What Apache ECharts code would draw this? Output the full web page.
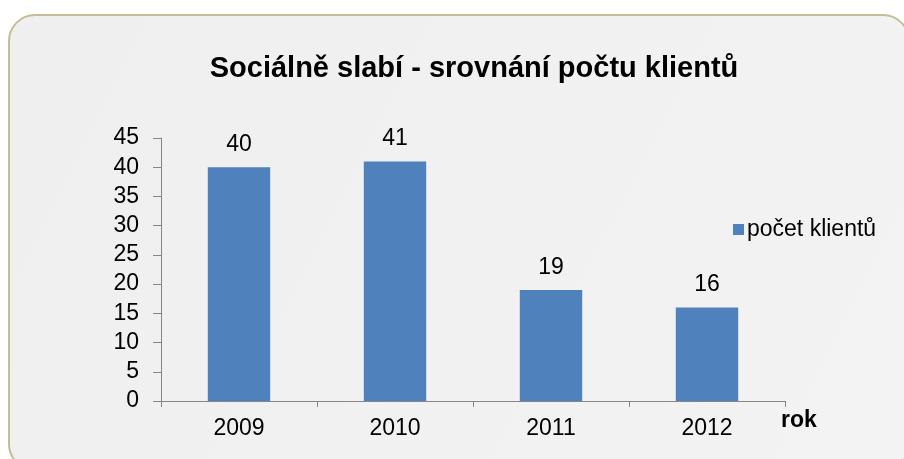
<!DOCTYPE html>
<html>
<head>
<meta charset="utf-8">
<script src="https://cdn.jsdelivr.net/npm/echarts@6/dist/echarts.min.js"></script>
<style>
  html, body { margin: 0; padding: 0; background: #fff; }
  #chart { width: 904px; height: 459px; }
</style>
</head>
<body>
<div id="chart"></div>
<script>
// data
var years = ['2009', '2010', '2011', '2012']
var clients = [40, 41, 19, 16]
var seriesName = 'počet klientů'

var chart = echarts.init(document.getElementById('chart'))
chart.setOption({
  backgroundColor: '#fff',
  graphic: [{
    type: 'rect',
    z: -10,
    shape: { x: 9, y: 15, width: 900, height: 455, r: 26 },
    style: {
      fill: new echarts.graphic.LinearGradient(0, 0, 1, 1, [
        { offset: 0, color: '#efefef' },
        { offset: 1, color: '#f3f3f3' }
      ]),
      stroke: '#c4bd97',
      lineWidth: 2
    }
  }],
  title: {
    text: 'Sociálně slabí - srovnání počtu klientů',
    left: 469,
    top: 49,
    textAlign: 'center',
    textStyle: {
      fontFamily: 'Liberation Sans',
      fontSize: 29,
      fontWeight: 'bold',
      color: '#000'
    }
  },
  legend: {
    left: 728,
    top: 213,
    icon: 'rect',
    itemWidth: 11,
    itemHeight: 11,
    itemGap: 6,
    data: [seriesName],
    textStyle: {
      fontFamily: 'Liberation Sans',
      fontSize: 23,
      color: '#000',
      padding: [0, 0, 0, -2]
    }
  },
  grid: {
    left: 161,
    right: 119,
    top: 138,
    bottom: 58
  },
  xAxis: {
    type: 'category',
    data: years,
    name: 'rok',
    nameLocation: 'end',
    nameGap: -4,
    nameTextStyle: {
      fontFamily: 'Liberation Sans',
      fontSize: 23,
      fontWeight: 'bold',
      color: '#000',
      verticalAlign: 'top',
      align: 'left',
      padding: [8, 0, 0, 0]
    },
    axisLine: { lineStyle: { color: '#868686', width: 1 } },
    axisTick: { show: true, alignWithLabel: false, length: 6, inside: false, lineStyle: { color: '#868686' } },
    axisLabel: {
      fontFamily: 'Liberation Sans',
      fontSize: 23,
      color: '#000',
      margin: 16
    }
  },
  yAxis: {
    type: 'value',
    min: 0,
    max: 45,
    interval: 5,
    axisLine: { show: true, lineStyle: { color: '#868686', width: 1 } },
    axisTick: { show: true, length: 8, lineStyle: { color: '#868686' } },
    splitLine: { show: false },
    axisLabel: {
      fontFamily: 'Liberation Sans',
      fontSize: 23,
      color: '#000',
      margin: 22
    }
  },
  series: [{
    type: 'bar',
    name: seriesName,
    data: clients,
    barWidth: '40%',
    itemStyle: { color: '#4f81bd' },
    label: {
      show: true,
      position: 'top',
      distance: 11,
      fontFamily: 'Liberation Sans',
      fontSize: 23,
      color: '#000'
    }
  }]
})
</script>
</body>
</html>
